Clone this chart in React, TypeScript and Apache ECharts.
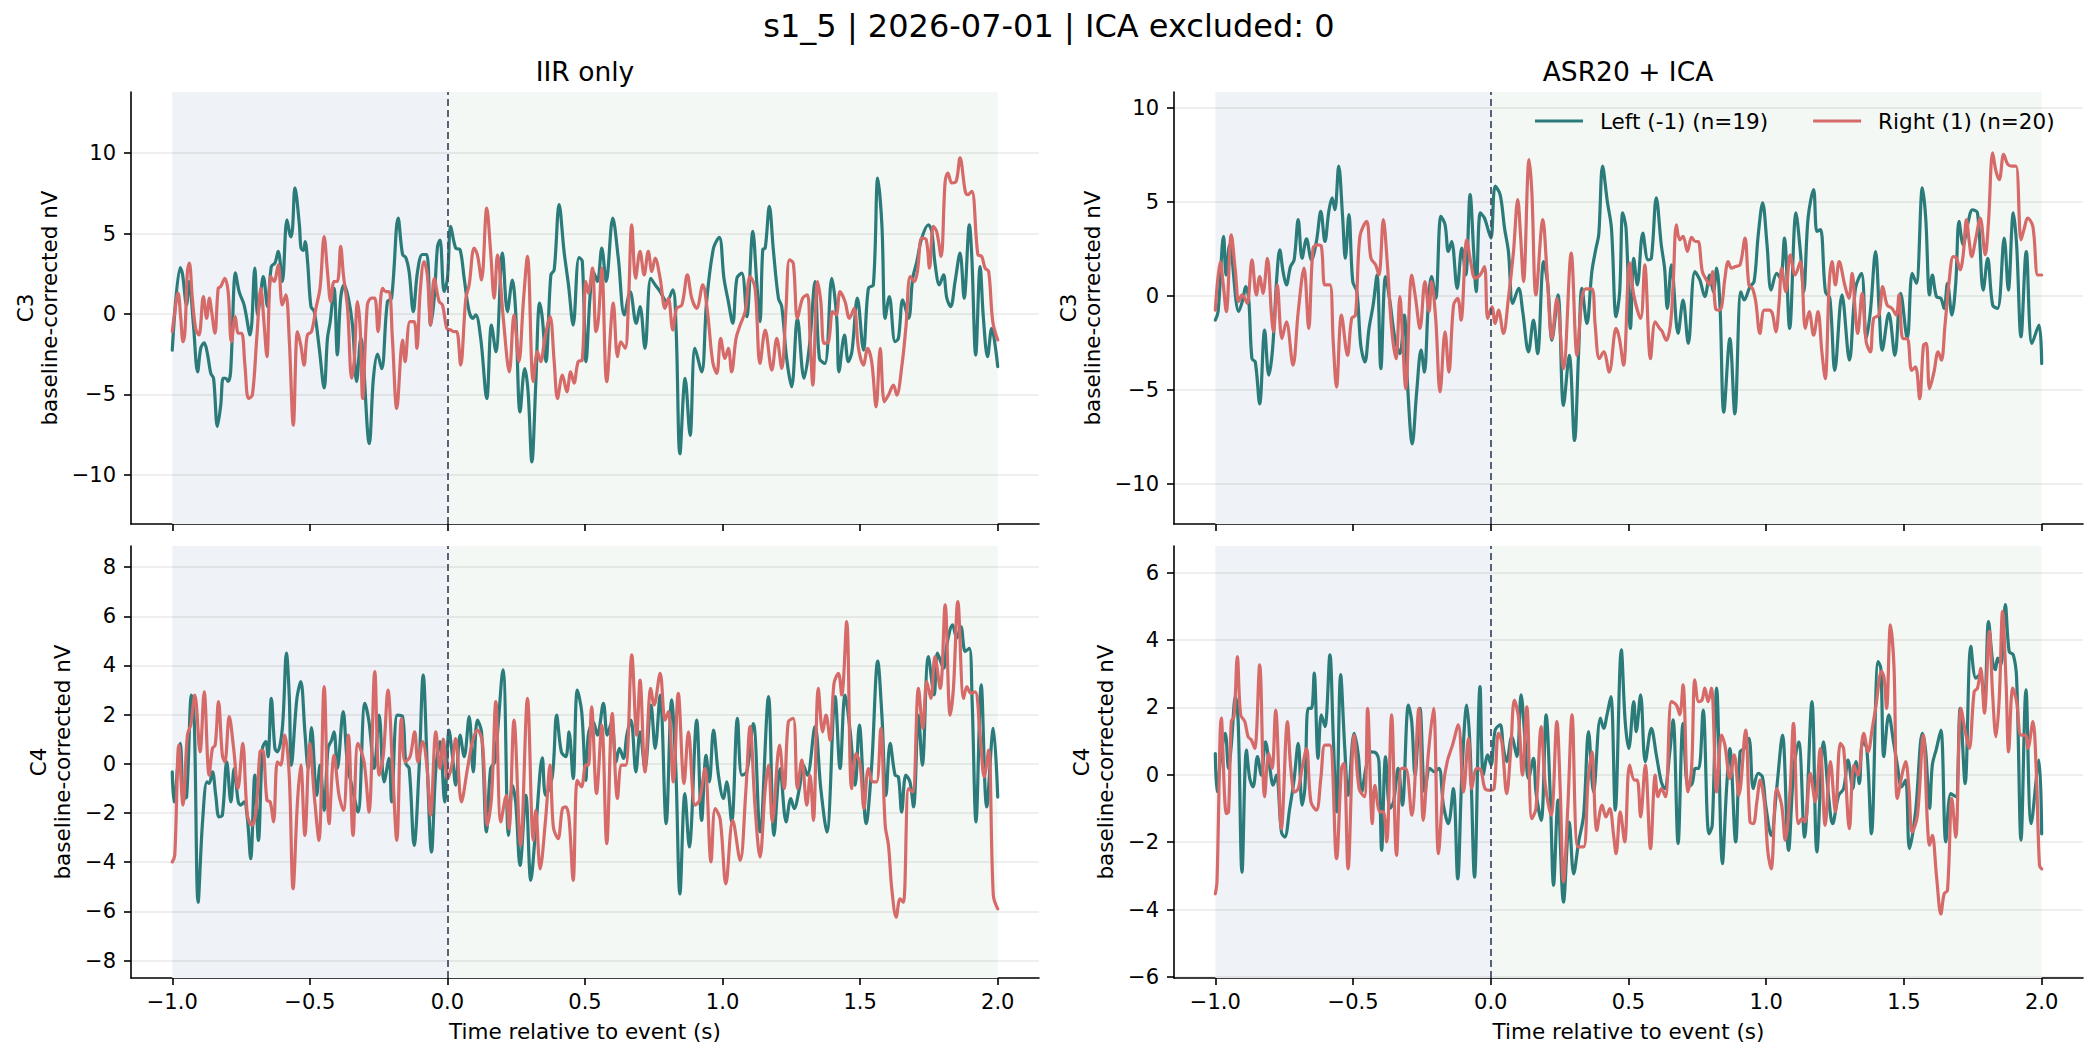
import React, { useEffect, useRef } from "react";
import * as echarts from "echarts";

const FONT = '"DejaVu Sans", "Liberation Sans", sans-serif';
const TEAL = "#2a7b7a";
const CORAL = "#d66a68";
const PRE_COLOR = "#eff2f6";
const POST_COLOR = "#f4f8f5";
const LEFT_NAME = "Left (-1) (n=19)";
const RIGHT_NAME = "Right (1) (n=20)";

const SUPTITLE = "s1_5 | 2026-07-01 | ICA excluded: 0";
const COL_TITLES = ["IIR only", "ASR20 + ICA"];
const X_NAME = "Time relative to event (s)";

const X_TICKS = [-1, -0.5, 0, 0.5, 1, 1.5, 2];
const Y_TICKS_C3 = [-10, -5, 0, 5, 10];
const Y_TICKS_C4_IIR = [-8, -6, -4, -2, 0, 2, 4, 6, 8];
const Y_TICKS_C4_ASR = [-6, -4, -2, 0, 2, 4, 6];

// IIR only, C3
const IIR_C3_LEFT: [number, number][] = [[-1.0,-2.25],[-0.971,2.89],[-0.963,2.5],[-0.948,0.56],[-0.939,2.02],[-0.923,-0.69],[-0.908,-3.6],[-0.896,-2.1],[-0.884,-1.8],[-0.872,-2.5],[-0.86,-3.7],[-0.85,-4.0],[-0.836,-7.0],[-0.824,-5.7],[-0.815,-4.0],[-0.806,-4.0],[-0.797,-4.2],[-0.788,-3.6],[-0.77,2.55],[-0.757,1.39],[-0.739,0.56],[-0.717,-1.31],[-0.7,2.85],[-0.69,-0.06],[-0.681,0.98],[-0.669,2.33],[-0.654,0.46],[-0.64,2.95],[-0.627,3.16],[-0.615,3.89],[-0.6,2.02],[-0.583,5.86],[-0.569,4.8],[-0.563,5.3],[-0.554,7.85],[-0.538,5.55],[-0.532,4.1],[-0.523,3.95],[-0.517,4.5],[-0.508,3.2],[-0.496,0.46],[-0.484,0.15],[-0.466,-2.1],[-0.448,-4.6],[-0.436,-1.52],[-0.426,-0.48],[-0.412,1.6],[-0.4,-2.55],[-0.388,0.98],[-0.375,1.81],[-0.36,0.98],[-0.345,-0.69],[-0.33,-4.2],[-0.315,-1.5],[-0.284,-8.07],[-0.269,-4.0],[-0.254,-2.5],[-0.239,-3.4],[-0.218,0.77],[-0.203,0.98],[-0.179,5.97],[-0.163,3.7],[-0.151,3.5],[-0.139,2.6],[-0.124,0.15],[-0.109,2.6],[-0.091,3.7],[-0.075,3.7],[-0.061,-0.69],[-0.048,1.0],[-0.036,4.2],[-0.027,4.6],[-0.012,1.4],[0.0,2.2],[0.012,5.45],[0.03,4.1],[0.046,4.0],[0.061,2.2],[0.079,0.15],[0.093,-0.27],[0.103,-0.06],[0.121,-1.52],[0.143,-5.26],[0.16,-0.69],[0.176,-2.35],[0.2,3.78],[0.218,0.15],[0.236,2.1],[0.248,0.15],[0.264,-6.1],[0.281,-3.4],[0.293,-4.8],[0.307,-9.2],[0.321,-4.4],[0.335,0.67],[0.345,-0.27],[0.358,-2.97],[0.376,2.43],[0.388,2.74],[0.406,6.8],[0.424,3.87],[0.44,1.8],[0.457,-0.69],[0.478,3.5],[0.49,3.3],[0.504,-2.97],[0.518,1.0],[0.53,2.64],[0.545,2.02],[0.561,4.1],[0.577,2.02],[0.601,5.97],[0.621,3.47],[0.643,-0.06],[0.664,1.39],[0.686,-0.58],[0.7,0.46],[0.718,-2.14],[0.739,2.22],[0.755,1.81],[0.773,1.39],[0.797,0.77],[0.819,1.5],[0.831,-0.9],[0.845,-8.7],[0.864,-4.0],[0.882,-7.55],[0.9,-2.14],[0.924,-3.6],[0.942,0.77],[0.967,4.1],[0.988,4.76],[1.005,2.22],[1.021,0.77],[1.037,-0.58],[1.052,2.22],[1.07,2.54],[1.088,-0.17],[1.11,5.14],[1.124,2.02],[1.136,-0.48],[1.146,4.0],[1.155,4.1],[1.17,6.7],[1.185,3.89],[1.203,0.98],[1.215,0.46],[1.233,-2.77],[1.251,-4.53],[1.272,-0.27],[1.296,-4.0],[1.316,-1.93],[1.336,2.02],[1.352,-2.77],[1.372,-3.08],[1.397,2.22],[1.415,-0.27],[1.423,-3.6],[1.443,-1.31],[1.457,-2.97],[1.47,-2.35],[1.49,0.98],[1.512,-2.25],[1.53,1.6],[1.548,1.81],[1.564,8.46],[1.579,5.55],[1.591,-0.27],[1.606,1.08],[1.627,-1.73],[1.639,-1.52],[1.655,0.87],[1.676,-0.27],[1.691,2.22],[1.706,3.26],[1.724,4.72],[1.748,5.55],[1.76,5.14],[1.772,3.16],[1.788,1.81],[1.803,2.43],[1.815,0.98],[1.829,0.46],[1.845,2.02],[1.863,3.78],[1.878,0.98],[1.897,5.55],[1.906,3.47],[1.92,-2.56],[1.936,2.95],[1.948,-0.27],[1.963,-2.66],[1.978,-0.9],[2.0,-3.28]];
const IIR_C3_RIGHT: [number, number][] = [[-1.0,-1.1],[-0.994,-0.27],[-0.979,1.29],[-0.969,-0.27],[-0.961,-1.73],[-0.954,-1.1],[-0.945,2.64],[-0.938,3.16],[-0.927,0.98],[-0.915,-0.9],[-0.903,-1.31],[-0.887,1.08],[-0.875,-0.27],[-0.865,0.98],[-0.857,0.15],[-0.845,-1.2],[-0.833,1.6],[-0.824,1.7],[-0.809,2.22],[-0.797,1.39],[-0.785,-1.73],[-0.771,-0.17],[-0.76,-1.2],[-0.748,-1.2],[-0.736,-3.18],[-0.723,-5.26],[-0.709,-5.05],[-0.693,-1.52],[-0.678,1.6],[-0.666,-0.69],[-0.656,-2.66],[-0.642,2.33],[-0.63,2.02],[-0.615,3.06],[-0.6,0.56],[-0.587,1.19],[-0.575,-1.52],[-0.56,-6.92],[-0.545,-1.1],[-0.533,-1.93],[-0.521,-3.18],[-0.509,-1.31],[-0.494,-1.1],[-0.478,0.35],[-0.463,1.6],[-0.448,4.82],[-0.436,2.64],[-0.424,0.77],[-0.412,2.02],[-0.4,2.02],[-0.388,4.2],[-0.378,2.43],[-0.363,0.35],[-0.348,-4.0],[-0.339,-2.97],[-0.327,0.77],[-0.317,-0.9],[-0.308,-5.26],[-0.291,0.56],[-0.276,0.98],[-0.264,0.98],[-0.252,-1.1],[-0.236,1.6],[-0.224,1.39],[-0.212,1.39],[-0.2,-1.52],[-0.184,-5.88],[-0.163,-1.62],[-0.154,-2.97],[-0.136,-0.48],[-0.121,-0.48],[-0.111,-2.14],[-0.099,1.39],[-0.085,3.26],[-0.073,2.43],[-0.061,-0.69],[-0.048,2.22],[-0.03,0.77],[-0.018,0.56],[-0.002,-0.9],[0.012,-1.0],[0.024,-1.1],[0.034,-1.1],[0.048,-3.18],[0.067,0.98],[0.079,1.81],[0.097,4.1],[0.109,3.68],[0.124,2.12],[0.143,6.59],[0.157,3.89],[0.17,0.98],[0.182,3.68],[0.203,-0.27],[0.225,-3.6],[0.242,-0.06],[0.26,-2.97],[0.276,0.77],[0.291,3.58],[0.312,-4.2],[0.327,-2.35],[0.339,-2.97],[0.354,-1.52],[0.373,-0.17],[0.388,-2.97],[0.4,-5.26],[0.418,-3.8],[0.434,-4.84],[0.448,-3.6],[0.46,-4.3],[0.475,-2.97],[0.49,-2.87],[0.503,2.02],[0.512,1.29],[0.527,2.85],[0.54,-1.1],[0.549,-0.27],[0.561,2.85],[0.579,-4.22],[0.603,0.67],[0.618,-2.66],[0.63,-1.73],[0.646,-2.14],[0.658,0.77],[0.67,5.55],[0.684,2.22],[0.7,3.89],[0.715,2.43],[0.73,3.89],[0.743,2.64],[0.755,3.47],[0.773,2.22],[0.791,0.35],[0.803,0.98],[0.819,-1.0],[0.833,0.35],[0.852,0.56],[0.872,2.43],[0.888,0.98],[0.906,0.35],[0.928,1.81],[0.945,0.15],[0.964,-2.97],[0.979,-3.7],[0.993,-1.52],[1.009,-2.77],[1.021,-2.14],[1.033,-3.6],[1.049,-1.52],[1.064,-0.69],[1.082,0.15],[1.1,2.33],[1.118,1.6],[1.136,-3.08],[1.155,-1.0],[1.179,-3.49],[1.197,-1.52],[1.215,-3.39],[1.23,0.15],[1.243,3.37],[1.257,3.16],[1.272,-0.27],[1.291,0.98],[1.308,1.19],[1.318,-1.52],[1.328,-4.43],[1.345,2.02],[1.357,0.77],[1.369,-1.83],[1.385,-1.73],[1.4,0.15],[1.413,-0.06],[1.427,1.39],[1.445,0.77],[1.461,-0.27],[1.478,0.35],[1.494,-2.14],[1.512,-3.18],[1.527,-2.14],[1.542,-2.97],[1.558,-5.78],[1.573,-2.14],[1.588,-5.47],[1.603,-5.05],[1.621,-4.43],[1.633,-5.05],[1.652,-3.18],[1.667,-0.69],[1.682,2.33],[1.697,2.02],[1.708,2.64],[1.724,4.72],[1.74,4.62],[1.752,2.85],[1.766,5.45],[1.778,5.14],[1.794,3.58],[1.809,8.25],[1.819,8.77],[1.833,8.15],[1.849,8.25],[1.863,9.71],[1.882,7.63],[1.891,7.42],[1.906,7.63],[1.928,3.68],[1.942,3.58],[1.954,2.85],[1.967,2.64],[1.982,-0.48],[2.0,-1.62]];

// IIR only, C4
const IIR_C4_LEFT: [number, number][] = [[-1.0,-0.33],[-0.994,-1.55],[-0.971,0.83],[-0.959,-1.41],[-0.948,-1.35],[-0.93,2.8],[-0.92,1.71],[-0.906,-5.63],[-0.89,-2.36],[-0.874,-0.73],[-0.866,-0.8],[-0.854,-0.33],[-0.842,-1.28],[-0.83,-2.16],[-0.818,-2.09],[-0.802,0.08],[-0.787,-1.55],[-0.775,-0.19],[-0.76,-1.55],[-0.751,-1.68],[-0.739,-1.55],[-0.727,-2.23],[-0.715,-3.86],[-0.7,-0.46],[-0.687,-3.11],[-0.672,0.63],[-0.66,0.9],[-0.652,0.29],[-0.64,2.66],[-0.627,0.63],[-0.618,0.49],[-0.6,1.44],[-0.585,4.5],[-0.575,2.8],[-0.567,-0.05],[-0.547,2.66],[-0.533,3.34],[-0.518,1.3],[-0.506,-0.19],[-0.494,1.47],[-0.475,-1.28],[-0.463,-0.05],[-0.448,-1.89],[-0.434,0.63],[-0.421,0.96],[-0.412,1.3],[-0.4,-0.19],[-0.379,2.12],[-0.363,-0.05],[-0.345,-1.01],[-0.325,-1.96],[-0.3,2.46],[-0.285,1.71],[-0.266,-0.19],[-0.248,1.98],[-0.23,-0.73],[-0.212,0.22],[-0.203,-1.55],[-0.182,1.98],[-0.163,1.92],[-0.151,0.01],[-0.139,-0.19],[-0.121,-3.32],[-0.103,-0.19],[-0.088,3.61],[-0.073,-0.19],[-0.058,-3.59],[-0.042,-0.19],[-0.027,0.9],[-0.01,-1.55],[0.006,1.37],[0.018,0.35],[0.03,-0.87],[0.046,1.17],[0.061,0.29],[0.079,1.92],[0.094,-0.33],[0.109,1.78],[0.124,1.3],[0.142,-2.77],[0.157,-0.19],[0.172,0.08],[0.202,3.82],[0.222,-2.91],[0.236,-0.87],[0.248,-1.55],[0.264,-4.13],[0.285,-1.28],[0.303,-4.74],[0.321,-2.64],[0.345,0.24],[0.357,-1.28],[0.381,-0.53],[0.397,1.98],[0.414,0.49],[0.43,0.29],[0.442,1.3],[0.457,-0.6],[0.472,3.0],[0.488,2.12],[0.503,-0.67],[0.512,1.17],[0.53,1.71],[0.545,1.17],[0.567,2.46],[0.581,1.17],[0.597,1.71],[0.613,0.08],[0.625,0.63],[0.64,0.22],[0.652,1.17],[0.667,1.78],[0.685,-0.33],[0.7,1.3],[0.718,-0.19],[0.74,2.39],[0.755,0.63],[0.773,2.8],[0.795,-2.43],[0.815,2.6],[0.83,-0.19],[0.845,-5.29],[0.863,-1.21],[0.879,-3.38],[0.906,1.78],[0.924,-2.3],[0.94,0.35],[0.952,-0.73],[0.967,1.37],[0.985,-0.46],[1.003,-1.41],[1.015,-0.73],[1.033,-2.36],[1.054,1.85],[1.07,-0.46],[1.088,-0.33],[1.112,1.64],[1.136,-2.77],[1.167,2.73],[1.187,-2.91],[1.209,-0.19],[1.231,-2.36],[1.248,-1.41],[1.26,-1.82],[1.279,-1.01],[1.294,-0.05],[1.308,-0.46],[1.336,1.51],[1.357,-1.01],[1.379,-2.77],[1.409,2.73],[1.427,-0.19],[1.445,2.8],[1.464,1.3],[1.482,-0.87],[1.497,1.58],[1.522,-2.43],[1.542,-0.05],[1.564,4.18],[1.579,1.98],[1.594,-1.28],[1.609,0.83],[1.627,-0.46],[1.639,-0.53],[1.651,-1.96],[1.666,-0.46],[1.681,-0.73],[1.694,-1.75],[1.712,1.98],[1.726,-0.05],[1.748,4.36],[1.769,2.8],[1.781,4.5],[1.803,3.89],[1.815,4.84],[1.836,5.65],[1.851,5.11],[1.866,5.58],[1.882,4.57],[1.897,4.7],[1.907,2.53],[1.921,-2.36],[1.94,3.21],[1.96,-1.75],[1.984,1.44],[2.0,-1.35]];
const IIR_C4_RIGHT: [number, number][] = [[-1.0,-3.99],[-0.991,-3.72],[-0.976,0.76],[-0.961,-1.68],[-0.945,1.17],[-0.933,1.58],[-0.918,2.8],[-0.899,0.49],[-0.884,2.93],[-0.866,-0.46],[-0.854,0.63],[-0.844,0.76],[-0.832,2.53],[-0.818,0.35],[-0.809,0.08],[-0.793,1.92],[-0.777,0.63],[-0.761,-1.01],[-0.744,0.83],[-0.727,-2.09],[-0.711,-2.5],[-0.696,-1.96],[-0.681,0.49],[-0.671,0.56],[-0.656,-1.48],[-0.644,-1.55],[-0.632,-2.36],[-0.618,0.08],[-0.606,-0.05],[-0.591,1.17],[-0.575,-0.46],[-0.561,-5.08],[-0.545,-1.55],[-0.533,-0.05],[-0.518,-2.91],[-0.5,0.83],[-0.484,-1.28],[-0.467,-3.11],[-0.448,3.14],[-0.43,-2.43],[-0.412,0.35],[-0.394,-1.28],[-0.378,-1.89],[-0.36,1.17],[-0.343,-2.91],[-0.325,0.83],[-0.303,0.08],[-0.285,-1.96],[-0.264,3.75],[-0.248,-0.46],[-0.233,0.35],[-0.216,3.0],[-0.2,-0.05],[-0.184,-3.11],[-0.167,1.85],[-0.154,0.08],[-0.136,0.29],[-0.119,1.3],[-0.107,0.08],[-0.09,0.9],[-0.075,-0.05],[-0.061,-2.09],[-0.042,1.3],[-0.027,-0.19],[-0.015,1.01],[0.0,-0.6],[0.016,-0.05],[0.03,1.03],[0.051,-1.55],[0.073,-0.19],[0.091,0.9],[0.109,1.37],[0.127,0.9],[0.145,-2.5],[0.16,-1.41],[0.176,2.53],[0.194,-2.36],[0.214,-1.28],[0.224,-2.64],[0.242,1.78],[0.266,-3.32],[0.291,2.66],[0.312,-3.11],[0.321,-1.89],[0.337,-4.27],[0.357,-2.23],[0.373,-0.05],[0.385,-2.57],[0.402,-3.04],[0.418,-1.82],[0.43,-1.75],[0.442,-2.23],[0.457,-4.74],[0.472,-0.67],[0.487,-0.94],[0.503,-0.05],[0.512,-0.05],[0.524,2.32],[0.542,-1.21],[0.561,1.58],[0.579,-3.25],[0.599,2.05],[0.618,-1.41],[0.633,-0.05],[0.648,-0.05],[0.67,4.43],[0.688,1.17],[0.7,3.41],[0.718,-0.33],[0.739,3.07],[0.751,2.39],[0.773,3.68],[0.791,1.78],[0.803,2.12],[0.821,-0.73],[0.839,2.87],[0.86,-0.8],[0.876,1.3],[0.9,-1.68],[0.916,-1.48],[0.936,-0.19],[0.958,-3.99],[0.973,-1.82],[0.991,-2.23],[1.012,-4.88],[1.037,-2.3],[1.064,-3.93],[1.084,-1.21],[1.1,1.51],[1.118,-1.75],[1.136,-3.79],[1.155,-1.01],[1.167,-0.05],[1.181,-2.36],[1.207,0.76],[1.224,-1.01],[1.239,1.71],[1.257,1.85],[1.272,-1.01],[1.288,0.15],[1.306,-1.68],[1.318,-0.46],[1.33,-2.3],[1.348,3.07],[1.364,1.3],[1.376,1.98],[1.391,0.96],[1.405,3.27],[1.421,3.68],[1.433,2.8],[1.451,5.79],[1.469,-1.01],[1.485,0.42],[1.5,-0.05],[1.514,-1.82],[1.53,-0.19],[1.546,-0.73],[1.56,-0.73],[1.575,1.44],[1.591,-2.5],[1.603,-3.32],[1.615,-5.08],[1.631,-6.24],[1.645,-5.49],[1.657,-5.63],[1.676,-1.01],[1.691,-1.14],[1.712,3.07],[1.728,1.44],[1.742,3.34],[1.757,2.66],[1.772,4.36],[1.791,3.07],[1.809,6.47],[1.827,1.98],[1.839,3.07],[1.855,6.6],[1.876,2.66],[1.888,3.14],[1.902,2.87],[1.918,2.93],[1.936,1.17],[1.951,-0.53],[1.967,0.56],[1.984,-5.35],[2.0,-5.9]];

// ASR20 + ICA, C3
const ASR_C3_LEFT: [number, number][] = [[-1.0,-1.3],[-0.99,-0.85],[-0.97,3.15],[-0.961,1.1],[-0.948,2.7],[-0.915,-0.85],[-0.899,-0.14],[-0.89,0.48],[-0.879,-0.14],[-0.867,-3.35],[-0.855,-3.52],[-0.839,-5.75],[-0.821,-1.83],[-0.806,-4.23],[-0.792,-2.81],[-0.777,0.93],[-0.766,2.44],[-0.754,1.28],[-0.742,0.57],[-0.727,1.55],[-0.714,1.9],[-0.699,4.04],[-0.685,1.99],[-0.669,3.02],[-0.651,1.9],[-0.633,2.88],[-0.617,4.48],[-0.602,2.88],[-0.588,4.48],[-0.576,5.2],[-0.566,4.57],[-0.552,6.89],[-0.538,4.22],[-0.528,1.99],[-0.515,4.31],[-0.501,0.75],[-0.486,0.21],[-0.472,-2.63],[-0.457,-3.52],[-0.442,-1.74],[-0.427,-0.5],[-0.413,1.1],[-0.399,-3.88],[-0.382,1.01],[-0.366,-0.32],[-0.348,-2.28],[-0.33,-3.08],[-0.314,-1.03],[-0.302,-4.77],[-0.285,-7.88],[-0.269,-5.12],[-0.253,-2.9],[-0.241,-4.06],[-0.227,-0.5],[-0.215,1.01],[-0.2,-0.14],[-0.181,4.22],[-0.166,3.77],[-0.154,2.35],[-0.142,2.88],[-0.122,0.39],[-0.105,2.53],[-0.091,1.1],[-0.075,5.37],[-0.062,2.35],[-0.053,0.21],[-0.038,4.4],[-0.023,4.13],[-0.008,3.42],[0.001,3.06],[0.016,5.82],[0.034,5.37],[0.05,3.59],[0.064,2.35],[0.08,-0.41],[0.101,0.39],[0.116,-0.85],[0.137,-2.99],[0.155,-1.3],[0.17,-3.08],[0.192,1.81],[0.207,0.57],[0.222,-2.37],[0.244,0.04],[0.264,-5.84],[0.285,-3.17],[0.304,-7.7],[0.319,-2.99],[0.331,0.39],[0.349,-1.48],[0.367,1.28],[0.382,2.53],[0.392,3.24],[0.406,6.89],[0.423,5.02],[0.438,3.59],[0.455,-1.12],[0.468,0.21],[0.479,4.4],[0.491,3.59],[0.507,-1.74],[0.519,1.99],[0.532,0.57],[0.552,3.33],[0.571,1.9],[0.583,1.99],[0.601,5.2],[0.619,2.7],[0.631,1.46],[0.641,-0.68],[0.656,1.64],[0.68,-2.01],[0.698,-0.23],[0.717,-2.54],[0.741,1.28],[0.759,0.84],[0.777,-0.05],[0.795,1.1],[0.808,0.21],[0.82,1.46],[0.832,-0.5],[0.846,-6.19],[0.868,-2.28],[0.886,-6.28],[0.908,0.21],[0.92,-0.23],[0.941,0.48],[0.956,0.75],[0.971,3.24],[0.987,4.93],[1.003,2.7],[1.018,0.3],[1.038,1.19],[1.052,0.93],[1.066,3.06],[1.085,-1.74],[1.108,4.4],[1.124,2.35],[1.136,0.21],[1.152,4.13],[1.172,5.64],[1.184,3.42],[1.197,3.51],[1.215,0.21],[1.231,-0.14],[1.249,-3.97],[1.275,0.04],[1.302,-3.43],[1.324,0.39],[1.346,1.19],[1.363,-2.28],[1.378,-0.85],[1.397,2.35],[1.411,-1.03],[1.421,-2.9],[1.445,-0.94],[1.467,-3.17],[1.488,0.12],[1.512,-2.28],[1.53,1.19],[1.545,0.66],[1.567,5.73],[1.579,4.13],[1.593,0.04],[1.603,1.1],[1.618,-0.05],[1.634,-0.14],[1.646,-0.68],[1.658,0.66],[1.674,-1.03],[1.688,0.66],[1.7,3.95],[1.715,2.7],[1.731,3.77],[1.749,4.57],[1.767,4.4],[1.788,0.3],[1.804,1.99],[1.822,-0.5],[1.84,-0.68],[1.864,3.06],[1.879,0.3],[1.897,4.4],[1.909,2.7],[1.925,-2.19],[1.944,2.35],[1.965,-2.54],[1.99,-1.57],[2.0,-3.61]];
const ASR_C3_RIGHT: [number, number][] = [[-1.0,-0.77],[-0.982,1.81],[-0.971,0.57],[-0.96,-0.85],[-0.942,3.24],[-0.927,1.28],[-0.915,-0.32],[-0.903,0.04],[-0.893,-0.14],[-0.884,-0.41],[-0.867,1.9],[-0.851,0.04],[-0.839,1.01],[-0.827,0.12],[-0.811,1.99],[-0.796,-1.03],[-0.789,-1.92],[-0.775,0.57],[-0.758,-2.28],[-0.742,-1.39],[-0.718,-3.7],[-0.699,-0.85],[-0.678,1.46],[-0.661,-1.74],[-0.645,2.53],[-0.629,2.7],[-0.615,2.62],[-0.602,0.57],[-0.584,0.57],[-0.572,-2.46],[-0.56,-4.86],[-0.542,-1.03],[-0.52,-3.17],[-0.505,-1.21],[-0.491,-1.03],[-0.475,3.15],[-0.451,3.95],[-0.435,1.99],[-0.418,1.64],[-0.406,1.1],[-0.39,4.04],[-0.376,1.81],[-0.36,-1.74],[-0.344,-3.35],[-0.33,-0.05],[-0.319,-2.63],[-0.309,-4.95],[-0.287,1.1],[-0.273,-0.14],[-0.257,-1.74],[-0.239,0.75],[-0.224,-0.85],[-0.215,0.75],[-0.2,-1.21],[-0.184,-5.12],[-0.166,-1.92],[-0.152,-4.06],[-0.135,-0.5],[-0.12,-0.14],[-0.108,-1.3],[-0.087,2.97],[-0.072,1.73],[-0.057,0.93],[-0.039,1.1],[-0.023,1.55],[-0.011,-1.21],[0.004,-0.59],[0.016,-1.48],[0.028,-0.77],[0.046,-2.01],[0.064,-0.14],[0.082,2.26],[0.098,5.11],[0.108,3.24],[0.119,0.75],[0.139,7.24],[0.149,5.55],[0.164,0.04],[0.189,4.04],[0.204,1.28],[0.222,-2.28],[0.24,-0.14],[0.264,-3.88],[0.292,2.26],[0.313,-3.17],[0.331,-0.14],[0.345,0.36],[0.367,0.36],[0.379,-1.57],[0.394,-3.35],[0.41,-2.99],[0.43,-4.06],[0.455,-1.74],[0.467,-2.28],[0.482,-3.7],[0.504,1.73],[0.519,0.04],[0.544,-1.21],[0.559,1.64],[0.58,-3.35],[0.597,-1.39],[0.613,-1.74],[0.622,-1.89],[0.637,-2.37],[0.652,-1.57],[0.662,0.57],[0.674,3.77],[0.686,2.97],[0.698,3.15],[0.714,2.35],[0.729,3.1],[0.743,2.88],[0.753,2.88],[0.768,1.28],[0.783,0.84],[0.795,0.57],[0.805,1.28],[0.816,-0.68],[0.828,-0.77],[0.838,-0.59],[0.85,0.93],[0.862,1.81],[0.874,1.46],[0.889,1.55],[0.905,1.64],[0.923,3.06],[0.937,0.57],[0.95,0.39],[0.962,-0.32],[0.977,-2.01],[0.993,-0.77],[1.01,-0.77],[1.022,-0.94],[1.035,-1.92],[1.047,-0.32],[1.056,1.46],[1.071,0.21],[1.087,2.17],[1.105,1.1],[1.124,1.81],[1.142,-1.74],[1.156,-0.85],[1.172,-2.1],[1.188,-0.85],[1.202,-2.99],[1.214,-4.41],[1.229,0.75],[1.239,1.81],[1.251,0.57],[1.265,1.81],[1.285,0.57],[1.3,-0.14],[1.312,1.19],[1.324,-1.03],[1.332,-2.01],[1.348,0.12],[1.363,-2.46],[1.378,-2.99],[1.39,-1.21],[1.409,-1.03],[1.423,0.48],[1.439,-0.5],[1.457,-0.68],[1.472,-1.03],[1.482,0.04],[1.496,-2.28],[1.512,-2.28],[1.528,-3.97],[1.542,-3.79],[1.557,-5.48],[1.571,-2.63],[1.581,-2.54],[1.593,-4.95],[1.609,-4.06],[1.624,-2.99],[1.636,-3.43],[1.649,-1.57],[1.664,0.75],[1.679,2.08],[1.691,1.99],[1.704,1.37],[1.715,2.17],[1.727,4.04],[1.737,2.88],[1.746,2.08],[1.761,3.06],[1.777,4.13],[1.795,2.17],[1.807,3.95],[1.822,7.6],[1.834,6.62],[1.846,6.17],[1.862,7.51],[1.877,6.98],[1.892,6.89],[1.907,6.89],[1.925,2.97],[1.937,3.59],[1.949,4.13],[1.968,3.68],[1.986,1.1],[2.0,1.1]];

// ASR20 + ICA, C4
const ASR_C4_LEFT: [number, number][] = [[-1.0,0.63],[-0.994,-0.5],[-0.978,0.68],[-0.964,1.23],[-0.952,0.19],[-0.942,0.88],[-0.927,2.32],[-0.917,1.58],[-0.903,-2.89],[-0.887,0.73],[-0.875,-0.11],[-0.863,-0.36],[-0.847,0.54],[-0.833,-0.01],[-0.818,0.98],[-0.802,0.19],[-0.79,-0.31],[-0.778,-0.01],[-0.76,-1.7],[-0.748,-1.85],[-0.73,-1.0],[-0.715,-0.21],[-0.699,0.93],[-0.685,-0.9],[-0.675,-0.41],[-0.663,1.97],[-0.651,1.97],[-0.641,3.02],[-0.627,0.49],[-0.615,1.78],[-0.602,1.43],[-0.584,3.56],[-0.572,1.18],[-0.56,-1.1],[-0.545,2.97],[-0.53,0.78],[-0.518,-0.61],[-0.496,1.23],[-0.481,0.59],[-0.469,-0.51],[-0.451,0.29],[-0.433,0.68],[-0.415,0.63],[-0.406,0.39],[-0.396,-2.24],[-0.382,0.54],[-0.366,-1.0],[-0.353,-0.8],[-0.336,0.19],[-0.321,-0.9],[-0.299,2.07],[-0.287,1.58],[-0.275,-0.01],[-0.257,1.97],[-0.239,-0.51],[-0.221,0.19],[-0.205,0.09],[-0.188,0.19],[-0.172,-0.9],[-0.154,-1.45],[-0.136,-0.41],[-0.12,-3.09],[-0.105,-0.01],[-0.087,2.07],[-0.075,0.78],[-0.059,-3.04],[-0.039,2.62],[-0.027,-0.01],[-0.011,0.59],[0.001,0.29],[0.016,1.33],[0.034,1.48],[0.046,0.78],[0.058,0.39],[0.076,1.13],[0.095,0.54],[0.11,2.37],[0.125,0.98],[0.137,-0.11],[0.155,0.49],[0.164,-0.51],[0.183,-1.35],[0.201,1.78],[0.216,-0.61],[0.228,-3.28],[0.244,-0.75],[0.264,-3.78],[0.285,-1.4],[0.301,-2.94],[0.319,-1.99],[0.337,-1.2],[0.355,1.28],[0.373,-0.51],[0.398,1.68],[0.41,1.38],[0.422,1.78],[0.436,2.32],[0.452,-1.05],[0.474,3.71],[0.488,1.58],[0.501,0.78],[0.519,2.17],[0.528,1.28],[0.544,2.37],[0.561,0.39],[0.583,1.38],[0.601,0.59],[0.619,-0.21],[0.631,-0.41],[0.65,0.68],[0.662,1.63],[0.68,-2.04],[0.698,1.53],[0.716,-0.36],[0.731,-0.26],[0.743,0.19],[0.755,0.19],[0.771,1.92],[0.792,-1.75],[0.804,-1.5],[0.82,2.57],[0.841,-2.64],[0.856,-0.41],[0.868,0.78],[0.889,-1.99],[0.905,0.68],[0.92,0.78],[0.937,1.08],[0.953,-0.41],[0.971,0.04],[0.986,-0.06],[0.998,-0.9],[1.018,-1.8],[1.038,-0.41],[1.059,1.18],[1.081,-2.24],[1.1,0.19],[1.118,0.98],[1.139,-1.85],[1.166,2.17],[1.184,-2.29],[1.208,0.98],[1.226,-0.61],[1.241,-1.45],[1.263,-0.61],[1.281,-0.41],[1.297,0.44],[1.314,-0.41],[1.326,0.39],[1.338,-0.26],[1.35,0.98],[1.365,0.78],[1.382,-1.75],[1.406,3.36],[1.416,3.16],[1.427,0.54],[1.445,1.78],[1.463,0.93],[1.476,0.29],[1.491,-0.36],[1.506,-0.16],[1.52,-2.19],[1.542,-1.1],[1.567,1.23],[1.579,0.68],[1.593,-1.0],[1.603,0.29],[1.618,0.78],[1.634,1.33],[1.652,-1.99],[1.67,-0.56],[1.688,-0.65],[1.704,1.97],[1.722,-0.26],[1.743,3.81],[1.761,2.87],[1.776,2.97],[1.792,2.17],[1.807,4.55],[1.822,3.36],[1.832,3.12],[1.84,3.46],[1.852,3.26],[1.868,5.05],[1.882,3.66],[1.897,3.56],[1.909,2.87],[1.925,-1.94],[1.943,2.52],[1.962,-1.45],[1.99,0.44],[2.0,-1.75]];
const ASR_C4_RIGHT: [number, number][] = [[-1.0,-3.53],[-0.994,-3.18],[-0.978,1.68],[-0.96,-1.15],[-0.952,-1.1],[-0.942,1.58],[-0.932,1.73],[-0.92,3.51],[-0.908,1.78],[-0.893,1.58],[-0.881,1.13],[-0.869,1.03],[-0.857,0.78],[-0.839,3.26],[-0.821,-0.65],[-0.806,0.63],[-0.794,0.19],[-0.781,1.92],[-0.76,-1.6],[-0.738,1.58],[-0.726,0.19],[-0.712,-0.51],[-0.699,-0.41],[-0.685,0.19],[-0.669,0.78],[-0.653,-0.8],[-0.633,-1.05],[-0.617,-0.11],[-0.602,0.88],[-0.584,0.88],[-0.56,-2.49],[-0.542,0.19],[-0.533,0.34],[-0.518,-2.79],[-0.496,1.18],[-0.478,-0.41],[-0.459,-0.65],[-0.447,1.97],[-0.43,-1.45],[-0.421,-0.31],[-0.402,-1.1],[-0.39,-1.1],[-0.378,-1.99],[-0.36,1.78],[-0.342,-2.39],[-0.324,0.19],[-0.309,0.19],[-0.287,-1.2],[-0.261,1.97],[-0.245,-1.35],[-0.227,0.59],[-0.208,1.97],[-0.19,-2.34],[-0.172,-0.31],[-0.158,0.39],[-0.139,0.88],[-0.118,1.48],[-0.099,-0.51],[-0.081,1.08],[-0.069,-0.41],[-0.051,0.19],[-0.036,0.14],[-0.021,-0.41],[-0.002,-0.46],[0.012,-0.41],[0.028,1.23],[0.04,0.98],[0.058,-0.56],[0.072,0.68],[0.086,2.22],[0.101,1.68],[0.115,-0.01],[0.131,2.02],[0.149,-1.3],[0.164,-1.0],[0.183,1.43],[0.198,-0.31],[0.219,-1.2],[0.24,1.58],[0.252,-0.41],[0.264,-3.18],[0.28,-0.9],[0.295,1.78],[0.316,-2.14],[0.337,-2.14],[0.353,-0.21],[0.367,0.68],[0.385,-1.65],[0.404,-0.9],[0.418,-1.25],[0.432,-1.0],[0.446,-1.8],[0.455,-2.34],[0.47,-1.1],[0.486,-1.99],[0.504,0.29],[0.522,-0.16],[0.532,-0.16],[0.544,-1.25],[0.561,0.29],[0.58,-2.19],[0.597,-0.01],[0.607,-0.65],[0.619,-0.41],[0.634,-0.65],[0.656,2.17],[0.674,2.07],[0.686,1.78],[0.698,2.67],[0.716,-0.51],[0.729,0.19],[0.741,2.82],[0.755,2.17],[0.767,2.22],[0.777,2.57],[0.789,2.17],[0.801,2.57],[0.82,-0.51],[0.838,1.18],[0.85,0.88],[0.868,-0.11],[0.884,0.59],[0.901,-0.61],[0.925,1.33],[0.941,-1.4],[0.953,-1.45],[0.966,-0.8],[0.978,-0.16],[0.993,-0.8],[1.006,-2.29],[1.018,-2.79],[1.038,-0.41],[1.056,-0.9],[1.069,-1.94],[1.087,-0.41],[1.099,1.53],[1.117,-1.45],[1.13,-1.3],[1.141,-1.4],[1.16,0.04],[1.178,-0.8],[1.196,0.78],[1.214,-1.5],[1.233,0.39],[1.251,-1.1],[1.269,0.93],[1.281,0.78],[1.302,-1.6],[1.318,0.29],[1.333,-0.01],[1.354,1.23],[1.37,0.68],[1.385,1.38],[1.397,1.97],[1.419,3.07],[1.428,2.87],[1.437,1.97],[1.451,4.45],[1.464,3.16],[1.476,-0.7],[1.494,0.04],[1.506,0.39],[1.518,-0.41],[1.53,-1.7],[1.549,-1.2],[1.57,1.18],[1.585,-1.4],[1.593,-2.09],[1.603,-1.8],[1.618,-2.99],[1.634,-4.13],[1.646,-3.53],[1.658,-3.43],[1.674,-0.7],[1.688,-1.85],[1.707,1.97],[1.725,1.18],[1.737,0.78],[1.755,2.47],[1.767,2.57],[1.779,3.16],[1.792,1.83],[1.81,4.26],[1.822,2.37],[1.834,1.13],[1.846,2.27],[1.858,4.85],[1.871,2.67],[1.88,0.68],[1.895,2.57],[1.909,2.17],[1.925,1.18],[1.941,1.18],[1.95,0.78],[1.968,1.58],[1.98,0.19],[1.992,-2.69],[2.0,-2.79]];

const fmtNum = (v: number, digits: number) =>
  (v < 0 ? "\u2212" : "") + Math.abs(v).toFixed(digits);

interface Panel {
  grid: { left: number; top: number; width: number; height: number };
  yMin: number;
  yMax: number;
  yTicks: number[];
  left: [number, number][];
  right: [number, number][];
  yName: string;
  yNameGap: number;
  showXLabels: boolean;
}

const PANELS: Panel[] = [
  { grid: { left: 131, top: 92, width: 908, height: 432 }, yMin: -13.07, yMax: 13.81, yTicks: Y_TICKS_C3, left: IIR_C3_LEFT, right: IIR_C3_RIGHT, yName: "C3\nbaseline-corrected nV", yNameGap: 70, showXLabels: false },
  { grid: { left: 1174, top: 92, width: 909, height: 432 }, yMin: -12.14, yMax: 10.83, yTicks: Y_TICKS_C3, left: ASR_C3_LEFT, right: ASR_C3_RIGHT, yName: "C3\nbaseline-corrected nV", yNameGap: 70, showXLabels: false },
  { grid: { left: 131, top: 546, width: 908, height: 432 }, yMin: -8.71, yMax: 8.86, yTicks: Y_TICKS_C4_IIR, left: IIR_C4_LEFT, right: IIR_C4_RIGHT, yName: "C4\nbaseline-corrected nV", yNameGap: 57, showXLabels: true },
  { grid: { left: 1174, top: 546, width: 909, height: 432 }, yMin: -6.03, yMax: 6.79, yTicks: Y_TICKS_C4_ASR, left: ASR_C4_LEFT, right: ASR_C4_RIGHT, yName: "C4\nbaseline-corrected nV", yNameGap: 57, showXLabels: true },
];

function buildOption() {
  const axisLineStyle = { color: "#000", width: 1.6 };
  const labelStyle = { fontFamily: FONT, fontSize: 21, color: "#000" };
  const grid = PANELS.map((p) => ({ ...p.grid }));
  const xAxis = PANELS.map((p, i) => ({
    type: "value",
    gridIndex: i,
    min: -1.15,
    max: 2.15,
    axisLine: { show: true, onZero: false, lineStyle: axisLineStyle },
    axisTick: { show: true, customValues: X_TICKS, length: 7, lineStyle: axisLineStyle },
    axisLabel: {
      show: p.showXLabels,
      customValues: X_TICKS,
      margin: 13,
      formatter: (v: number) => fmtNum(v, 1),
      ...labelStyle,
    },
    splitLine: { show: false },
    name: p.showXLabels ? X_NAME : "",
    nameLocation: "middle",
    nameGap: 40,
    nameTextStyle: { ...labelStyle, fontSize: 21.5, lineHeight: 26 },
  }));
  const yAxis = PANELS.map((p, i) => ({
    type: "value",
    gridIndex: i,
    min: p.yMin,
    max: p.yMax,
    axisLine: { show: true, onZero: false, lineStyle: axisLineStyle },
    axisTick: { show: true, customValues: p.yTicks, length: 7, lineStyle: axisLineStyle },
    axisLabel: {
      show: true,
      customValues: p.yTicks,
      margin: 15,
      formatter: (v: number) => fmtNum(v, 0),
      ...labelStyle,
    },
    splitLine: { show: false },
    name: p.yName,
    nameLocation: "middle",
    nameRotate: 90,
    nameGap: p.yNameGap,
    nameTextStyle: { ...labelStyle, fontSize: 21.5, lineHeight: 24, align: "center" },
  }));

  const series: any[] = [];
  PANELS.forEach((p, i) => {
    series.push({
      type: "line",
      xAxisIndex: i,
      yAxisIndex: i,
      data: [],
      silent: true,
      z: 1,
      markArea: {
        silent: true,
        z: 1,
        data: [
          [{ xAxis: -1, itemStyle: { color: PRE_COLOR, opacity: 1 } }, { xAxis: 0 }],
          [{ xAxis: 0, itemStyle: { color: POST_COLOR, opacity: 1 } }, { xAxis: 2 }],
        ],
      },
      markLine: {
        silent: true,
        z: 2,
        symbol: ["none", "none"],
        label: { show: false },
        animation: false,
        data: p.yTicks.map((v) => ({
          yAxis: v,
          lineStyle: { color: "rgba(0,0,0,0.085)", width: 1.5, type: "solid" },
        })),
      },
    });
    series.push({
      type: "line",
      name: LEFT_NAME,
      xAxisIndex: i,
      yAxisIndex: i,
      data: p.left,
      showSymbol: false,
      symbol: "none",
      smooth: 0.35,
      lineStyle: { color: TEAL, width: 3.2, join: "round", cap: "round" },
      itemStyle: { color: TEAL },
      z: 3,
      silent: true,
    });
    series.push({
      type: "line",
      name: RIGHT_NAME,
      xAxisIndex: i,
      yAxisIndex: i,
      data: p.right,
      showSymbol: false,
      symbol: "none",
      smooth: 0.35,
      lineStyle: { color: CORAL, width: 3.2, join: "round", cap: "round" },
      itemStyle: { color: CORAL },
      z: 4,
      silent: true,
    });
    series.push({
      type: "line",
      xAxisIndex: i,
      yAxisIndex: i,
      data: [],
      silent: true,
      z: 5,
      markLine: {
        silent: true,
        z: 5,
        symbol: ["none", "none"],
        label: { show: false },
        animation: false,
        data: [{ xAxis: 0, lineStyle: { color: "#46526a", width: 1.8, type: [7, 4] } }],
      },
    });
  });

  const titleStyle = { fontFamily: FONT, color: "#000", fontWeight: "normal" as const };
  return {
    animation: false,
    backgroundColor: "#ffffff",
    title: [
      { text: SUPTITLE, left: 1049, top: 26, textAlign: "center", textVerticalAlign: "middle", padding: 0, textStyle: { ...titleStyle, fontSize: 32 } },
      { text: COL_TITLES[0], left: 585, top: 71, textAlign: "center", textVerticalAlign: "middle", padding: 0, textStyle: { ...titleStyle, fontSize: 26.5 } },
      { text: COL_TITLES[1], left: 1628, top: 71, textAlign: "center", textVerticalAlign: "middle", padding: 0, textStyle: { ...titleStyle, fontSize: 26.5 } },
    ],
    legend: {
      show: true,
      data: [LEFT_NAME, RIGHT_NAME],
      left: 1535,
      top: 109,
      orient: "horizontal",
      icon: "rect",
      itemWidth: 48,
      itemHeight: 3,
      itemGap: 45,
      padding: 0,
      selectedMode: false,
      textStyle: { fontFamily: FONT, fontSize: 21.5, color: "#000", lineHeight: 24, padding: [0, 0, 0, 12] },
    },
    grid,
    xAxis,
    yAxis,
    series,
  };
}

export default function App() {
  const ref = useRef<HTMLDivElement>(null);
  useEffect(() => {
    if (!ref.current) return;
    const chart = echarts.init(ref.current, undefined, { renderer: "svg" });
    chart.setOption(buildOption() as any);
    return () => chart.dispose();
  }, []);
  return (
    <div
      ref={ref}
      style={{ position: "fixed", left: 0, top: 0, width: 2098, height: 1058, background: "#fff" }}
    />
  );
}
